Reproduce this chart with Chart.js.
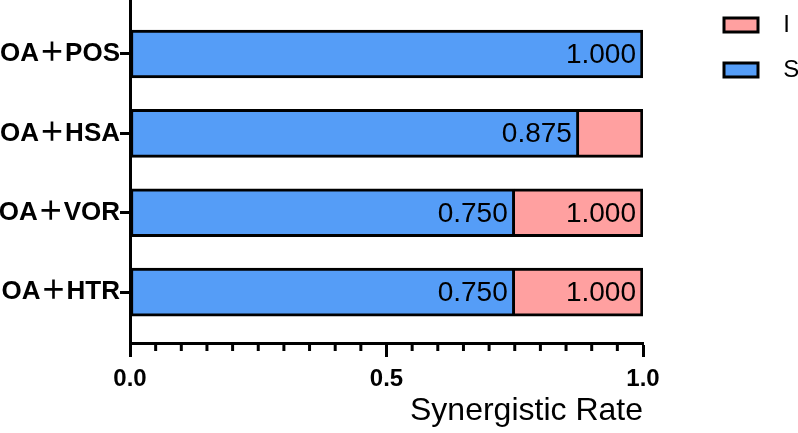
<!DOCTYPE html>
<html>
<head>
<meta charset="utf-8">
<script src="https://cdn.jsdelivr.net/npm/chart.js@4.4.1/dist/chart.umd.min.js"></script>
<style>
  body { margin: 0; background: #fff; }
</style>
</head>
<body>
<canvas id="chart" width="798" height="433"></canvas>
<script>
const categories = ['OA＋POS', 'OA＋HSA', 'OA＋VOR', 'OA＋HTR'];
const valuesS = [1.0, 0.875, 0.75, 0.75];
const valuesI = [0.0, 0.125, 0.25, 0.25];
const xTicks = [0, 0.5, 1.0];

const BLUE = 'rgb(85, 157, 247)';
const PINK = 'rgb(255, 160, 160)';
const FONT = "'Liberation Sans', Arial, 'Noto Sans CJK SC', sans-serif";

Chart.defaults.font.family = FONT;
Chart.defaults.color = '#000';

// value at the end of each segment, skipped when the segment is too short
const barLabels = {
  id: 'barLabels',
  afterDatasetsDraw(chart) {
    const ctx = chart.ctx;
    ctx.save();
    ctx.font = '28px ' + FONT;
    ctx.fillStyle = '#000';
    ctx.textAlign = 'right';
    ctx.textBaseline = 'middle';
    chart.data.datasets.forEach((ds, d) => {
      chart.getDatasetMeta(d).data.forEach((bar, i) => {
        const end = d === 0 ? valuesS[i] : valuesS[i] + valuesI[i];
        const txt = end.toFixed(3);
        const w = bar.x - bar.base;
        if (w > ctx.measureText(txt).width + 14) ctx.fillText(txt, bar.x - 7, bar.y + 1);
      });
    });
    ctx.restore();
  }
};

// short minor ticks every 0.05 on the x axis
const minorTicks = {
  id: 'minorTicks',
  afterDraw(chart) {
    const x = chart.scales.x, ctx = chart.ctx;
    ctx.save();
    ctx.strokeStyle = '#000';
    ctx.lineWidth = 3;
    for (let k = 1; k < 20; k++) {
      if (k === 10) continue;
      const px = x.getPixelForValue(k / 20);
      ctx.beginPath();
      ctx.moveTo(px, x.top);
      ctx.lineTo(px, x.top + 8);
      ctx.stroke();
    }
    ctx.restore();
  }
};

// legend sits off to the right, a bit higher than default
const legendShift = {
  id: 'legendShift',
  afterLayout(chart) {
    const lg = chart.legend;
    lg.top -= 8;
    lg.bottom -= 8;
    lg.left += 60;
    lg.right += 60;
  }
};

new Chart(document.getElementById('chart'), {
  type: 'bar',
  data: {
    datasets: [
      {
        label: 'S',
        data: valuesS.map((v, i) => ({ x: v, y: i })),
        backgroundColor: BLUE,
        borderColor: '#000',
        borderWidth: 3,
        borderSkipped: false,
        barThickness: 48
      },
      {
        label: 'I',
        data: valuesI.map((v, i) => ({ x: v, y: i })),
        backgroundColor: PINK,
        borderColor: '#000',
        borderWidth: 3,
        borderSkipped: 'start',
        barThickness: 48
      }
    ]
  },
  options: {
    indexAxis: 'y',
    responsive: false,
    animation: false,
    devicePixelRatio: 1,
    layout: { padding: { right: 12 } },
    plugins: {
      legend: {
        position: 'right',
        align: 'start',
        reverse: true,
        labels: {
          boxWidth: 34,
          boxHeight: 14,
          padding: 21,
          font: { size: 24 },
          generateLabels: chart =>
            Chart.defaults.plugins.legend.labels.generateLabels(chart)
              .map(item => ({ ...item, text: '  ' + item.text }))
        }
      },
      tooltip: { enabled: false }
    },
    scales: {
      x: {
        type: 'linear',
        min: 0,
        max: 1,
        stacked: true,
        border: { color: '#000', width: 3 },
        grid: { drawOnChartArea: false, tickColor: '#000', tickWidth: 3, tickLength: 14 },
        ticks: {
          padding: 8,
          font: { size: 24, weight: 'bold' },
          callback: v => v.toFixed(1)
        },
        afterBuildTicks: s => { s.ticks = xTicks.map(v => ({ value: v })); },
        title: {
          display: true,
          text: 'Synergistic Rate',
          align: 'end',
          font: { size: 32 },
          padding: { top: 0, bottom: 3 }
        },
        afterFit: s => { s.height = 90; s.paddingRight = 155; }
      },
      y: {
        type: 'linear',
        reverse: true,
        offset: false,
        min: -0.68,
        max: 3.64,
        stacked: true,
        border: { color: '#000', width: 3 },
        grid: { offset: false, drawOnChartArea: false, tickColor: '#000', tickWidth: 3, tickLength: 10 },
        ticks: {
          padding: 0,
          font: { size: 26, weight: 'bold' },
          callback: v => categories[v]
        },
        afterBuildTicks: s => { s.ticks = categories.map((c, i) => ({ value: i })); },
        afterFit: s => { s.width = 130; s.paddingTop = 0; s.paddingBottom = 0; }
      }
    }
  },
  plugins: [barLabels, minorTicks, legendShift]
});
</script>
</body>
</html>
